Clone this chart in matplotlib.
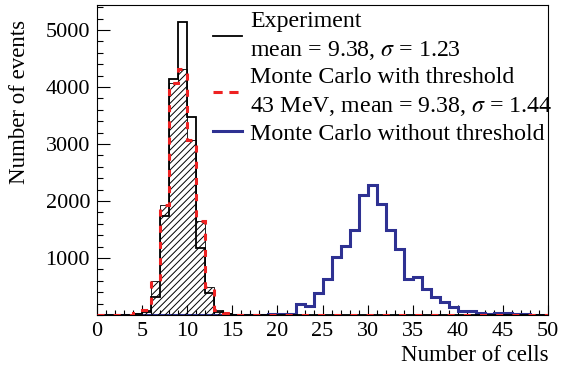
import numpy as np
import matplotlib
matplotlib.use('Agg')
import matplotlib.pyplot as plt
from matplotlib.lines import Line2D

plt.rcParams['font.family'] = ['Liberation Serif', 'DejaVu Serif']
plt.rcParams['mathtext.fontset'] = 'stix'
plt.rcParams['hatch.linewidth'] = 0.7

# bin edges: 0..50 cells, width 1
edges = np.arange(0, 51)

# experiment (black outline)
exp_counts = [0, 0, 0, 0, 10, 50, 320, 1730, 4140, 5140,
              3480, 1180, 380, 60, 10, 0, 0, 0, 0, 0,
              0, 0, 0, 0, 0, 0, 0, 0, 0, 0,
              0, 0, 0, 0, 0, 0, 0, 0, 0, 0,
              0, 0, 0, 0, 0, 0, 0, 0, 0, 0]

# Monte Carlo with 43 MeV threshold (hatched + red dashed)
mc_thr_counts = [0, 0, 0, 0, 30, 90, 600, 1930, 4070, 4320,
                 3070, 1650, 500, 90, 30, 0, 0, 0, 0, 0,
                 0, 0, 0, 0, 0, 0, 0, 0, 0, 0,
                 0, 0, 0, 0, 0, 0, 0, 0, 0, 0,
                 0, 0, 0, 0, 0, 0, 0, 0, 0, 0]

# Monte Carlo without threshold (blue)
mc_nothr_counts = [0, 0, 0, 0, 0, 0, 0, 0, 0, 0,
                   0, 0, 0, 0, 0, 0, 0, 0, 0, 25,
                   25, 10, 190, 150, 390, 630, 1010, 1210, 1490, 2110,
                   2280, 1950, 1490, 1160, 640, 660, 460, 320, 230, 135,
                   75, 75, 30, 25, 30, 30, 25, 10, 0, 0]

c_red = '#ee2222'
c_blue = '#2e3192'

fig = plt.figure(figsize=(5.64, 3.70), dpi=100)
ax = fig.add_axes([0.172, 0.1486, 0.8, 0.838])

ax.stairs(mc_nothr_counts, edges, color=c_blue, linewidth=2.2, zorder=2)
ax.stairs(mc_thr_counts, edges, fill=True, facecolor='none', edgecolor='black',
          hatch='/////', linewidth=0.6, zorder=3)
ax.stairs(exp_counts, edges, color='black', linewidth=1.3, zorder=4)
ax.stairs(mc_thr_counts, edges, color=c_red, linewidth=2.2,
          linestyle=(0, (2.3, 3.0)), zorder=5)

ax.set_xlim(0, 50)
ax.set_ylim(0, 5440)
ax.set_xticks(np.arange(0, 51, 5))
ax.set_xticks(np.arange(0, 51, 1), minor=True)
ax.set_yticks([1000, 2000, 3000, 4000, 5000])
ax.set_yticks(np.arange(0, 5441, 200), minor=True)
ax.tick_params(axis='both', which='both', direction='in', labelsize=16,
               top=False, right=False)
ax.tick_params(axis='x', which='major', length=7, width=0.8, pad=5)
ax.tick_params(axis='x', which='minor', length=3.5, width=0.8)
ax.tick_params(axis='y', which='major', length=9, width=0.8, pad=5)
ax.tick_params(axis='y', which='minor', length=4.5, width=0.8)

ax.set_xlabel('Number of cells', fontsize=16.5, loc='right', labelpad=3)
ax.set_ylabel('Number of events', fontsize=16.5)
ax.yaxis.set_label_coords(-0.149, 0.687)

handles = [Line2D([], [], color='black', linewidth=1.3),
           Line2D([], [], color=c_red, linewidth=2.2, linestyle=(0, (3.0, 2.2))),
           Line2D([], [], color=c_blue, linewidth=2.2)]
labels = ['Experiment\nmean = 9.38, $\\sigma$ = 1.23',
          'Monte Carlo with threshold\n43 MeV, mean = 9.38, $\\sigma$ = 1.44',
          'Monte Carlo without threshold']
leg = ax.legend(handles, labels, loc='upper right', bbox_to_anchor=(1.018, 0.993),
                frameon=False, fontsize=17.2, handlelength=1.2, handletextpad=0.35,
                labelspacing=0.22, borderaxespad=0.0, borderpad=0.15)
for t in leg.get_texts():
    t.set_linespacing(1.4)

fig.savefig('out.png', dpi=100)
